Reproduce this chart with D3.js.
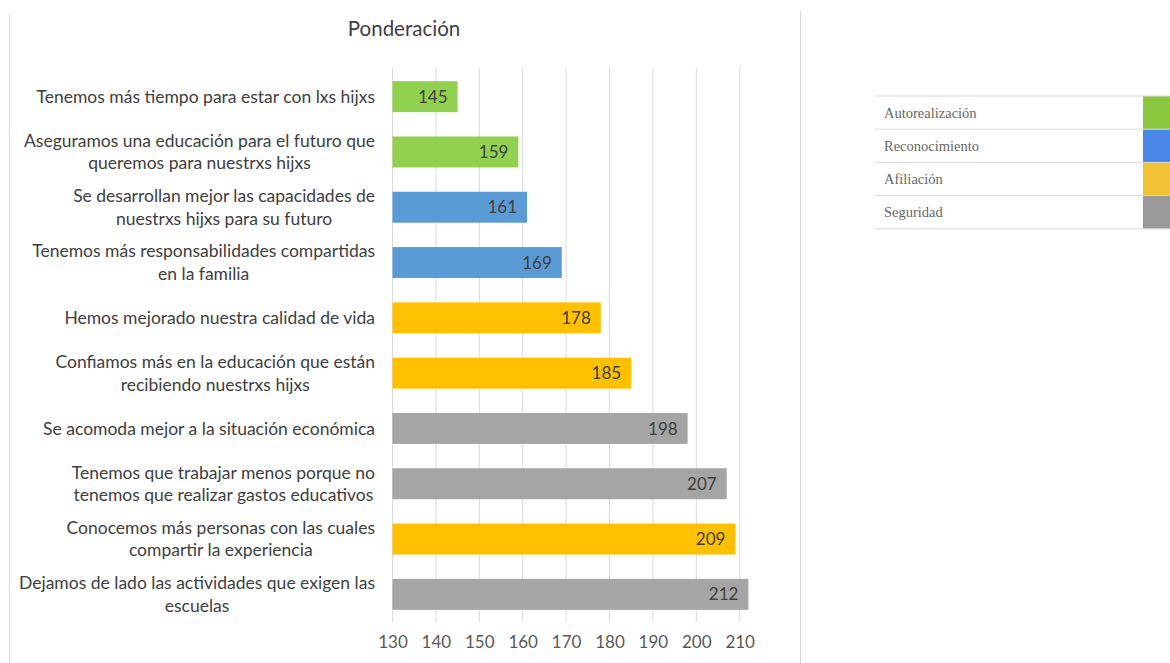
<!DOCTYPE html>
<html lang="es">
<head>
<meta charset="UTF-8">
<title>Ponderación</title>
<script src="https://d3js.org/d3.v7.min.js"></script>
<style>
    * { margin: 0; padding: 0; box-sizing: border-box; }
    body { background: #fff; width: 1170px; height: 663px; overflow: hidden; }
    svg { display: block; }
    .cat text { font-family: Lato, "Open Sans", sans-serif; font-size: 17.5px; fill: #404040; }
    .x-axis text { font-family: Lato, "Open Sans", sans-serif; font-size: 17px; fill: #595959; }
    .val { font-family: Lato, "Open Sans", sans-serif; font-size: 17px; fill: #404040; }
    .legend text { font-family: "Liberation Serif", "DejaVu Serif", serif; font-size: 14.5px; fill: #666; }
</style>
</head>
<body>
<svg id="chart" width="1170" height="663"></svg>
<script>
    // datos
    const categorias = [
        ["Tenemos más tiempo para estar con lxs hijxs"],
        ["Aseguramos una educación para el futuro que", "queremos para nuestrxs hijxs"],
        ["Se desarrollan mejor las capacidades de", "nuestrxs hijxs para su futuro"],
        ["Tenemos más responsabilidades compartidas", "en la familia"],
        ["Hemos mejorado nuestra calidad de vida"],
        ["Confiamos más en la educación que están", "recibiendo nuestrxs hijxs"],
        ["Se acomoda mejor a la situación económica"],
        ["Tenemos que trabajar menos porque no", "tenemos que realizar gastos educativos"],
        ["Conocemos más personas con las cuales", "compartir la experiencia"],
        ["Dejamos de lado las actividades que exigen las", "escuelas"]
    ];
    const valores = [145, 159, 161, 169, 178, 185, 198, 207, 209, 212];
    const grupos = ["Autorealización", "Autorealización", "Reconocimiento", "Reconocimiento",
        "Afiliación", "Afiliación", "Seguridad", "Seguridad", "Afiliación", "Seguridad"];
    const ticks = [130, 140, 150, 160, 170, 180, 190, 200, 210];

    const leyenda = ["Autorealización", "Reconocimiento", "Afiliación", "Seguridad"];
    const coloresBarra = ["#92d050", "#5b9bd5", "#ffc000", "#a5a5a5"];
    const coloresLeyenda = ["#8cc63e", "#4a86e8", "#f1c232", "#999999"];

    const svg = d3.select("#chart");

    // marco del área del gráfico
    svg.append("line").attr("x1", 9.5).attr("x2", 9.5).attr("y1", 14).attr("y2", 663)
        .attr("stroke", "#d9d9d9");
    svg.append("line").attr("x1", 800.5).attr("x2", 800.5).attr("y1", 11).attr("y2", 663)
        .attr("stroke", "#d9d9d9");

    svg.append("text")
        .attr("x", 404).attr("y", 36)
        .attr("text-anchor", "middle")
        .style("font-family", "Lato, 'Open Sans', sans-serif")
        .style("font-size", "20.5px")
        .style("fill", "#404040")
        .text("Ponderación");

    const x = d3.scaleLinear().domain([130, 210]).range([392.5, 739.7]);
    const y = d3.scaleBand().domain(d3.range(valores.length)).range([69, 622]).paddingInner(0.44).paddingOuter(0.22);
    const color = d3.scaleOrdinal().domain(leyenda).range(coloresBarra);

    // líneas de cuadrícula
    svg.append("g").selectAll("line").data(ticks).join("line")
        .attr("x1", d => x(d)).attr("x2", d => x(d))
        .attr("y1", 68).attr("y2", 622)
        .attr("stroke", "#d9d9d9").attr("stroke-width", 1);

    const xAxis = svg.append("g").attr("class", "x-axis")
        .attr("transform", "translate(0,622)")
        .call(d3.axisBottom(x).tickValues(ticks).tickSize(0).tickPadding(14));
    xAxis.select(".domain").remove();

    svg.append("g").selectAll("rect").data(valores).join("rect")
        .attr("x", x(130))
        .attr("y", (d, i) => y(i))
        .attr("width", d => x(d) - x(130))
        .attr("height", y.bandwidth())
        .attr("fill", (d, i) => color(grupos[i]));

    svg.append("g").selectAll("text").data(valores).join("text")
        .attr("class", "val")
        .attr("x", d => x(d) - 10)
        .attr("y", (d, i) => y(i) + y.bandwidth() / 2)
        .attr("dy", "0.36em")
        .attr("text-anchor", "end")
        .text(d => d);

    // etiquetas de categoría
    const cat = svg.append("g").attr("class", "cat");
    categorias.forEach((lineas, i) => {
        const cy = y(i) + y.bandwidth() / 2;
        const t = cat.append("text").attr("text-anchor", "middle");
        const lh = 22.5;
        const y0 = cy - (lineas.length - 1) * lh / 2;
        lineas.forEach((l, j) => {
            t.append("tspan").attr("y", y0 + j * lh).attr("dy", "0.35em").text(l);
        });
        // alinear el bloque a la derecha, líneas centradas entre sí
        const widths = [];
        t.selectAll("tspan").each(function () { widths.push(this.getComputedTextLength()); });
        const w = d3.max(widths);
        t.selectAll("tspan").attr("x", 375 - w / 2);
    });

    // leyenda
    const lg = svg.append("g").attr("class", "legend");
    const rowH = 33.2, lx0 = 875, lx1 = 1170, ly0 = 96;
    lg.selectAll("rect").data(leyenda).join("rect")
        .attr("x", 1143).attr("y", (d, i) => ly0 + i * rowH)
        .attr("width", 27).attr("height", rowH)
        .attr("fill", (d, i) => coloresLeyenda[i]);
    lg.selectAll("line").data(d3.range(leyenda.length + 1)).join("line")
        .attr("x1", lx0).attr("x2", lx1)
        .attr("y1", i => ly0 + i * rowH).attr("y2", i => ly0 + i * rowH)
        .attr("stroke", "#d9d9d9");
    lg.selectAll("text").data(leyenda).join("text")
        .attr("x", 884).attr("y", (d, i) => ly0 + i * rowH + rowH / 2)
        .attr("dy", "0.35em")
        .text(d => d);
</script>
</body>
</html>
